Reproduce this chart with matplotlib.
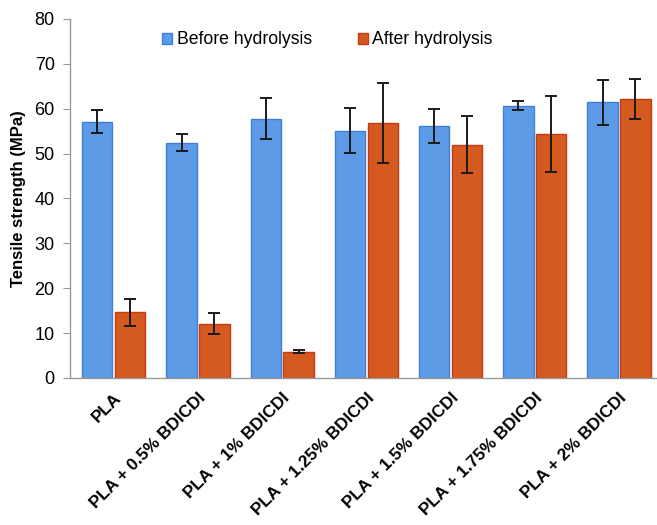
import numpy as np
import matplotlib
matplotlib.use("Agg")
import matplotlib.pyplot as plt

plt.rcParams['font.family'] = ['Liberation Sans', 'DejaVu Sans']

categories = ['PLA', 'PLA + 0.5% BDICDI', 'PLA + 1% BDICDI', 'PLA + 1.25% BDICDI',
              'PLA + 1.5% BDICDI', 'PLA + 1.75% BDICDI', 'PLA + 2% BDICDI']
before = [57.1, 52.4, 57.8, 55.1, 56.1, 60.6, 61.4]
before_err = [2.6, 1.9, 4.6, 5.0, 3.8, 1.0, 5.0]
after = [14.6, 12.1, 5.9, 56.8, 52.0, 54.3, 62.2]
after_err = [3.1, 2.3, 0.3, 9.0, 6.4, 8.5, 4.5]

x = np.arange(len(categories))
w = 0.36
off = 0.195

fig = plt.figure(figsize=(6.57, 5.25), dpi=100)
ax = fig.add_axes([0.1065, 0.28, 0.892, 0.684])

ax.bar(x - off, before, w, color='#5d9be6', edgecolor='#3f7fdc', linewidth=1.0,
       label='Before hydrolysis')
ax.bar(x + off, after, w, color='#d45a1f', edgecolor='#c73a12', linewidth=1.0,
       label='After hydrolysis')
ax.errorbar(x - off, before, yerr=before_err, fmt='none', ecolor='#1a1a1a',
            elinewidth=1.4, capsize=4, capthick=1.4)
ax.errorbar(x + off, after, yerr=after_err, fmt='none', ecolor='#1a1a1a',
            elinewidth=1.4, capsize=4, capthick=1.4)

ax.set_ylim(0, 80)
ax.set_xlim(-0.52, 6.44)
ax.set_yticks(range(0, 81, 10))
ax.tick_params(axis='y', labelsize=13, length=5, color='#999999', direction='out', pad=6)
ax.tick_params(axis='x', length=0, pad=9)
ax.set_xticks(x)
ax.set_xticklabels(categories, rotation=45, ha='right', rotation_mode='anchor',
                   fontsize=12.3, fontweight='bold')
ax.set_ylabel('Tensile strength (MPa)', fontsize=12, fontweight='bold', labelpad=6)

for s in ['top', 'right']:
    ax.spines[s].set_visible(False)
for s in ['left', 'bottom']:
    ax.spines[s].set_color('#999999')
    ax.spines[s].set_linewidth(1.0)

ax.legend(loc='center', bbox_to_anchor=(0.439, 0.9415), ncol=2, frameon=False,
          fontsize=12.7, handlelength=0.57, handleheight=0.57, handletextpad=0.25,
          columnspacing=2.6)

fig.savefig('out.png', dpi=100)
